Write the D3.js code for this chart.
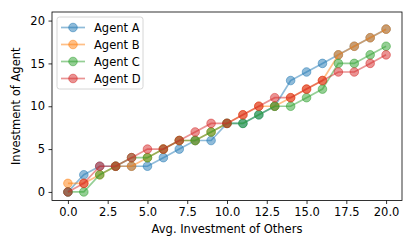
<!DOCTYPE html>
<html>
<head>
<meta charset="utf-8">
<script src="https://cdn.jsdelivr.net/npm/d3@7.9.0/dist/d3.min.js"></script>
<style>
  html, body { margin: 0; padding: 0; background: #fff; }
  svg text { font-family: "DejaVu Sans", sans-serif; fill: #000; }
</style>
</head>
<body>
<svg id="chart" width="415" height="249"></svg>
<script>
const xValues = d3.range(0, 21);
const agentA = [0, 2, 3, 3, 3, 3, 4, 5, 6, 6, 8, 8, 9, 10, 13, 14, 15, 16, 17, 18, 19];
const agentB = [1, 1, 2, 3, 3, 4, 5, 6, 6, 7, 8, 9, 10, 10, 11, 12, 13, 16, 17, 18, 19];
const agentC = [0, 0, 2, 3, 4, 4, 5, 6, 6, 7, 8, 8, 9, 10, 10, 11, 12, 15, 15, 16, 17];
const agentD = [0, 1, 3, 3, 4, 5, 5, 6, 7, 8, 8, 9, 10, 11, 11, 12, 13, 14, 14, 15, 16];
const seriesNames = ['Agent A', 'Agent B', 'Agent C', 'Agent D'];
const xTicks = [0, 2.5, 5, 7.5, 10, 12.5, 15, 17.5, 20];
const yTicks = [0, 5, 10, 15, 20];

const series = [agentA, agentB, agentC, agentD].map((vals, i) => ({
    name: seriesNames[i],
    values: vals.map((v, j) => ({ x: xValues[j], y: v }))
}));
const colors = d3.scaleOrdinal(seriesNames, ['#1f77b4', '#ff7f0e', '#2ca02c', '#d62728']);

const svg = d3.select('#chart');
const plotLeft = 52, plotRight = 402, plotTop = 12, plotBottom = 200.5;
const fontSize = 11.5;

const x = d3.scaleLinear().domain([-1, 21]).range([plotLeft, plotRight]);
const y = d3.scaleLinear().domain([-1, 21]).range([plotBottom, plotTop]);

// series
const line = d3.line().x(d => x(d.x)).y(d => y(d.y));
series.forEach(s => {
    const g = svg.append('g');
    g.append('path')
        .attr('d', line(s.values))
        .attr('fill', 'none')
        .attr('stroke', colors(s.name))
        .attr('stroke-opacity', 0.5)
        .attr('stroke-width', 1.7);
    g.selectAll('circle')
        .data(s.values)
        .join('circle')
        .attr('cx', d => x(d.x))
        .attr('cy', d => y(d.y))
        .attr('r', 4.3)
        .attr('fill', colors(s.name))
        .attr('fill-opacity', 0.5)
        .attr('stroke', colors(s.name))
        .attr('stroke-opacity', 0.5)
        .attr('stroke-width', 1);
});

// axes
const xAxis = d3.axisBottom(x).tickValues(xTicks).tickFormat(d3.format('.1f')).tickSize(3.5).tickPadding(3.5);
const yAxis = d3.axisLeft(y).tickValues(yTicks).tickFormat(d3.format('d')).tickSize(3.5).tickPadding(3.5);

const gx = svg.append('g').attr('transform', `translate(0,${plotBottom})`).call(xAxis);
const gy = svg.append('g').attr('transform', `translate(${plotLeft},0)`).call(yAxis);
[gx, gy].forEach(g => {
    g.select('.domain').remove();
    g.selectAll('line').attr('stroke', '#000').attr('stroke-width', 0.8);
    g.selectAll('text').attr('font-size', fontSize).attr('font-family', 'DejaVu Sans');
});

svg.append('rect')
    .attr('x', plotLeft).attr('y', plotTop)
    .attr('width', plotRight - plotLeft).attr('height', plotBottom - plotTop)
    .attr('fill', 'none').attr('stroke', '#000').attr('stroke-width', 0.8);

svg.append('text')
    .attr('x', (plotLeft + plotRight) / 2).attr('y', 233)
    .attr('text-anchor', 'middle').attr('font-size', fontSize)
    .text('Avg. Investment of Others');

svg.append('text')
    .attr('transform', `translate(20,${(plotTop + plotBottom) / 2}) rotate(-90)`)
    .attr('text-anchor', 'middle').attr('font-size', fontSize)
    .text('Investment of Agent');

// legend
const legend = svg.append('g').attr('transform', 'translate(57,17)');
legend.append('rect')
    .attr('width', 86).attr('height', 72).attr('rx', 2.5)
    .attr('fill', '#fff').attr('fill-opacity', 0.8)
    .attr('stroke', '#ccc').attr('stroke-width', 0.8);
series.forEach((s, i) => {
    const ly = 10.5 + i * 17;
    legend.append('line')
        .attr('x1', 4).attr('x2', 28).attr('y1', ly).attr('y2', ly)
        .attr('stroke', colors(s.name)).attr('stroke-opacity', 0.5).attr('stroke-width', 1.7);
    legend.append('circle')
        .attr('cx', 16).attr('cy', ly).attr('r', 4.3)
        .attr('fill', colors(s.name)).attr('fill-opacity', 0.5)
        .attr('stroke', colors(s.name)).attr('stroke-opacity', 0.5);
    legend.append('text')
        .attr('x', 37).attr('y', ly).attr('dy', '0.35em')
        .attr('font-size', fontSize)
        .text(s.name);
});
</script>
</body>
</html>
